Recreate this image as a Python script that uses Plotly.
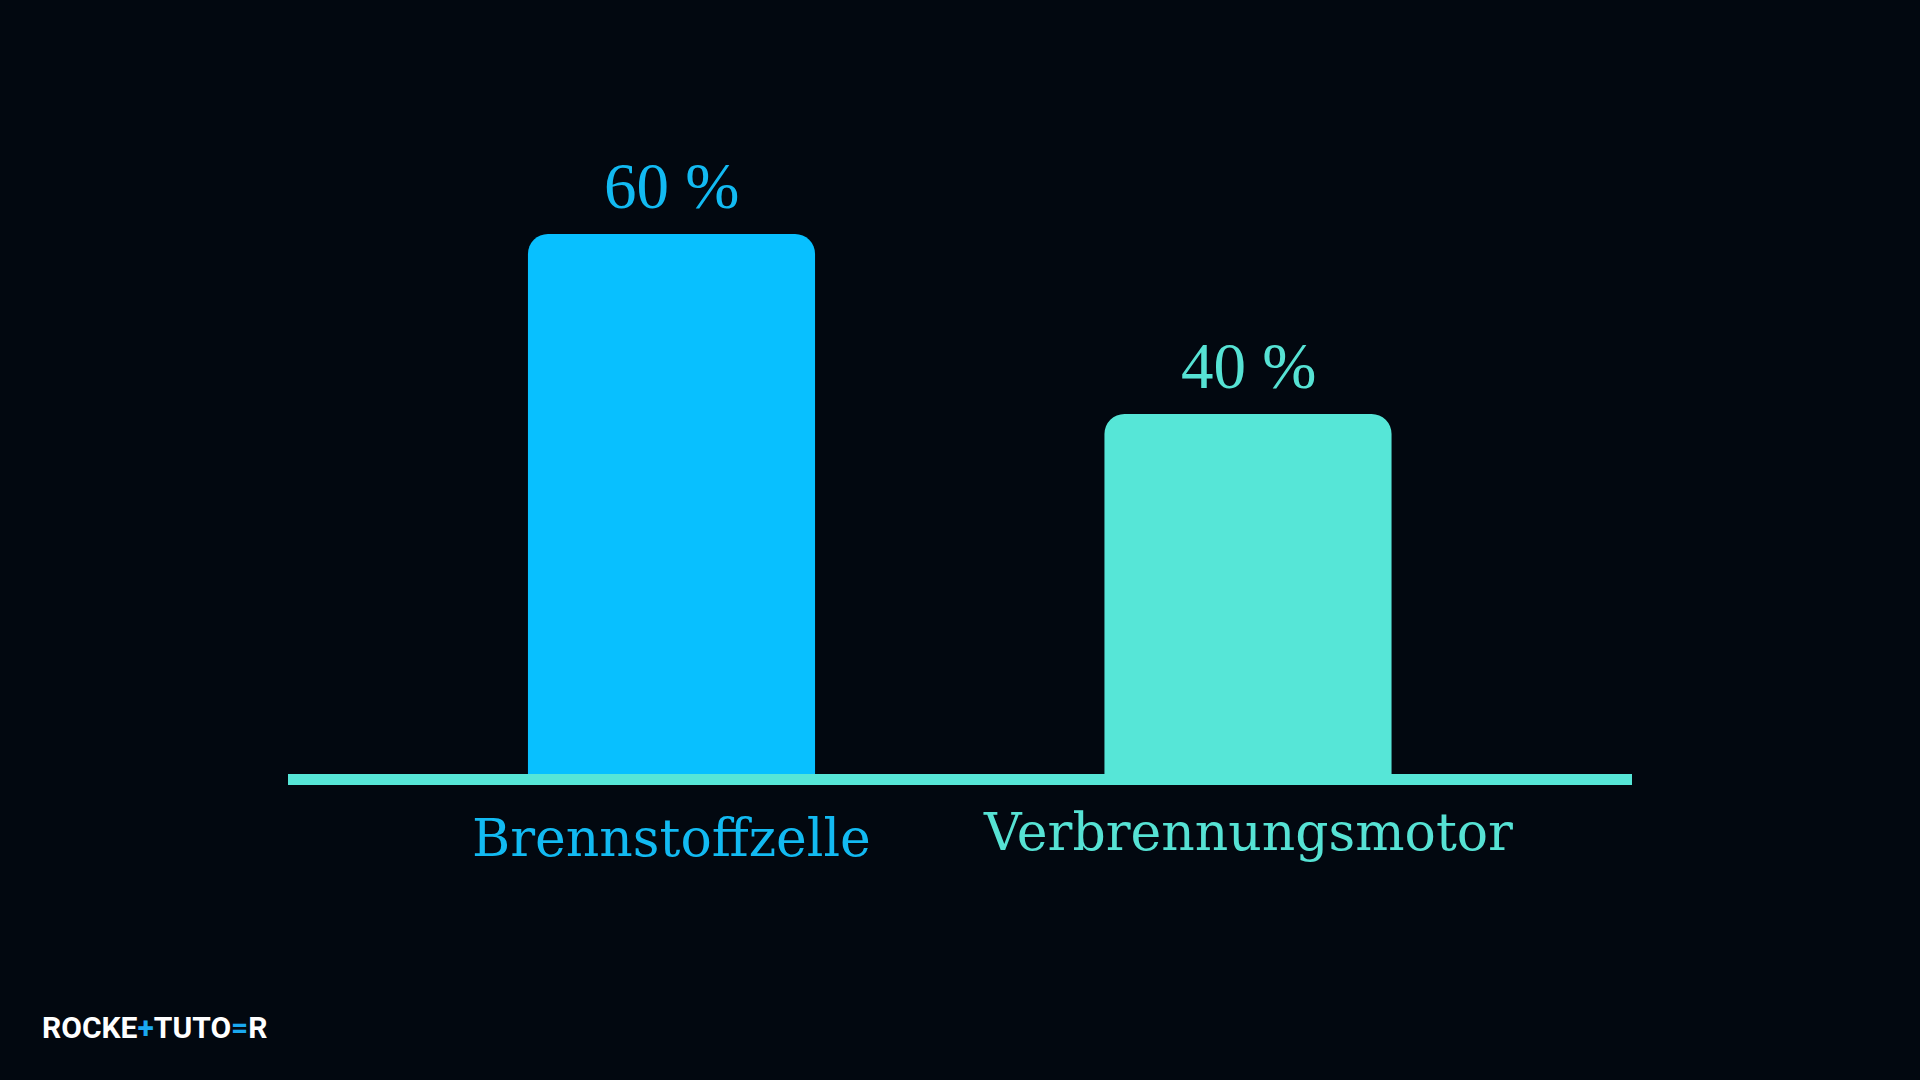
import plotly.graph_objects as go

categories = ["Brennstoffzelle", "Verbrennungsmotor"]
values = [60, 40]
value_labels = ["60 %", "40 %"]
bar_colors = ["#08C0FF", "#56E6D7"]
text_colors = ["#12BAF2", "#56E2D4"]
label_shift = [-64, -58]

BG = "#020810"

fig = go.Figure()
fig.add_trace(go.Bar(
    x=categories, y=values,
    marker=dict(color=bar_colors, line=dict(width=0)),
    width=0.498,
    hoverinfo="skip",
))

annotations = []
for c, v, t, col, sh in zip(categories, values, value_labels, text_colors, label_shift):
    annotations.append(dict(
        x=c, y=v, xref="x", yref="y", text=t, showarrow=False,
        yanchor="bottom", yshift=10,
        font=dict(family="Liberation Serif", size=65, color=col),
    ))
    annotations.append(dict(
        x=c, y=0, xref="x", yref="y", text=c, showarrow=False,
        yanchor="middle", yshift=sh,
        font=dict(family="DejaVu Serif", size=52, color=col),
    ))

annotations.append(dict(
    x=40 / 1920, y=(1080 - 1027) / 1080, xref="paper", yref="paper",
    xanchor="left", yanchor="middle", showarrow=False,
    text="ROCKE<span style='color:#1AA8F0'>+</span>TUTO<span style='color:#1AA8F0'>=</span>R",
    font=dict(family="Roboto", size=30, color="#FFFFFF", weight="bold"),
))

fig.add_shape(
    type="rect", xref="paper", yref="paper",
    x0=288 / 1920, x1=1632 / 1920,
    y0=(1080 - 785) / 1080, y1=(1080 - 774) / 1080,
    fillcolor="#56E6D7", line=dict(width=0), layer="above",
)

fig.update_layout(
    width=1920, height=1080,
    margin=dict(l=0, r=0, t=0, b=0),
    paper_bgcolor=BG, plot_bgcolor=BG,
    barcornerradius=20,
    showlegend=False,
    xaxis=dict(domain=[0, 1], range=[-671.5 / 576.5, (1920 - 671.5) / 576.5],
               showticklabels=False, showgrid=False, zeroline=False, showline=False,
               fixedrange=True),
    yaxis=dict(domain=[(1080 - 774) / 1080, (1080 - 54) / 1080], range=[0, 80],
               showticklabels=False, showgrid=False, zeroline=False, showline=False,
               fixedrange=True),
    annotations=annotations,
)

fig.write_html(
    "out.html",
    config={"displayModeBar": False},
    post_script="document.body.style.margin='0';document.body.style.background='#020810';document.body.style.overflow='hidden';",
)
